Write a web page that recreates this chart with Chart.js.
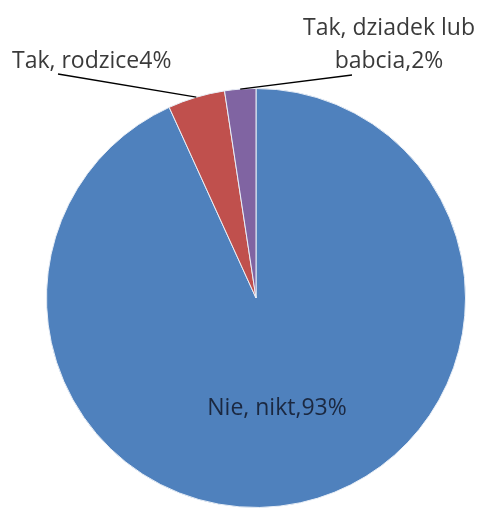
<!DOCTYPE html>
<html>
<head>
<meta charset="utf-8">
<script src="https://cdn.jsdelivr.net/npm/chart.js@4/dist/chart.umd.min.js"></script>
<style>
  html, body { margin: 0; padding: 0; background: #fff; }
  #wrap { width: 480px; height: 509px; }
</style>
</head>
<body>
<div id="wrap"><canvas id="myChart" width="480" height="509"></canvas></div>
<script>
// slices, clockwise from 12 o'clock
const categories = ["Nie, nikt", "Tak, rodzice", "Tak, dziadek lub babcia"];
const shares = [93.2, 4.4, 2.4];
const pctLabels = ["93%", "4%", "2%"];
const colors = ["#4F81BD", "#C0504D", "#8064A2"];

const labelFont = '23px "Open Sans", "Noto Sans", sans-serif';

const labelPlugin = {
  id: "pieLabels",
  afterDraw(chart) {
    const ctx = chart.ctx;
    const arcs = chart.getDatasetMeta(0).data;
    ctx.save();
    ctx.font = labelFont;
    ctx.textBaseline = "alphabetic";

    // inside label for the big slice
    ctx.fillStyle = "#1b2840";
    ctx.textAlign = "center";
    ctx.fillText(categories[0] + "," + pctLabels[0], 277, 415);

    // leader lines to the small slices
    function edge(a) {
      const mid = (a.startAngle + a.endAngle) / 2;
      return [a.x + Math.cos(mid) * a.outerRadius, a.y + Math.sin(mid) * a.outerRadius];
    }
    ctx.strokeStyle = "#000";
    ctx.lineWidth = 1.3;
    let p = edge(arcs[1]);
    ctx.beginPath();
    ctx.moveTo(58, 74);
    ctx.lineTo(p[0], p[1]);
    ctx.stroke();
    p = edge(arcs[2]);
    ctx.beginPath();
    ctx.moveTo(352, 75);
    ctx.lineTo(p[0], p[1]);
    ctx.stroke();

    ctx.fillStyle = "#3a3a3a";
    ctx.textAlign = "left";
    ctx.fillText(categories[1] + pctLabels[1], 12, 68);
    ctx.textAlign = "center";
    ctx.fillText("Tak, dziadek lub", 389, 35);
    ctx.fillText("babcia," + pctLabels[2], 389, 68);
    ctx.restore();
  }
};

new Chart(document.getElementById("myChart").getContext("2d"), {
  type: "pie",
  data: {
    labels: categories,
    datasets: [{
      data: shares,
      backgroundColor: colors,
      borderColor: "#e8eef6",
      borderWidth: 1
    }]
  },
  options: {
    responsive: false,
    animation: false,
    layout: { padding: { top: 88, bottom: 1, left: 46, right: 14 } },
    plugins: {
      legend: { display: false },
      tooltip: { enabled: false }
    }
  },
  plugins: [labelPlugin]
});
</script>
</body>
</html>
